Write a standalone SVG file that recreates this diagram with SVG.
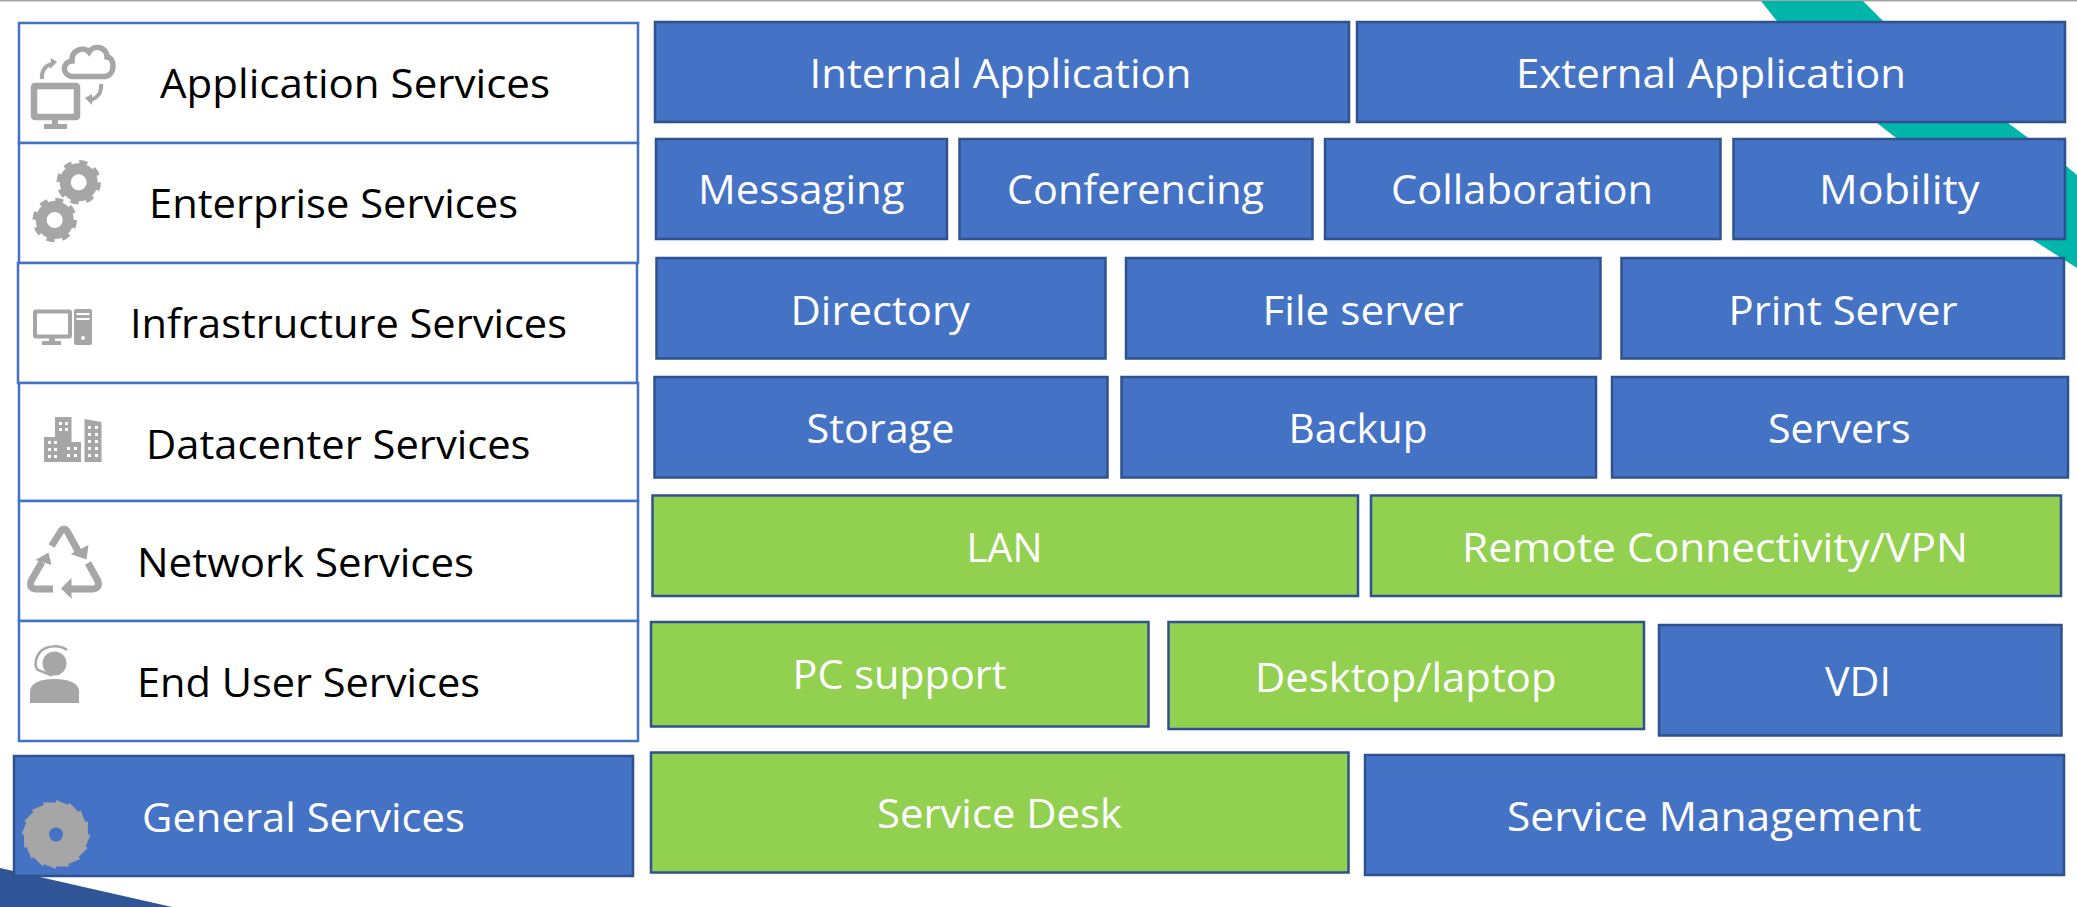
<svg xmlns="http://www.w3.org/2000/svg" width="2077" height="907" viewBox="0 0 2077 907">
<style>
text{font-family:"Open Sans","Noto Sans","Liberation Sans",sans-serif;font-size:40px}
.w{fill:#fff}.k{fill:#000}
.b{fill:#4472C4;stroke:#2F528F;stroke-width:2.5}
.g{fill:#92D050;stroke:#2F528F;stroke-width:2.5}
.s{fill:#fff;stroke:#4472C4;stroke-width:2.5}
.i{fill:#A6A6A6}
.l{fill:none;stroke:#A6A6A6}
.h{fill:#fff}
</style>
<defs>
<g id="gear">
<circle class="l" r="20" stroke-width="4.500" stroke-dasharray="8 7.700"/>
<circle class="l" r="13.500" stroke-width="11"/>
</g>
</defs>
<g id="background">
<rect width="2077" height="907" fill="#fff"/>
<rect width="2077" height="1.5" fill="#A6A6A6"/>
<polygon points="1761,1 1863,1 1882,20 2008,123 2027,137 2065,165 2077,175 2077,268 2033,240 1895,137 1877,123 1776,20" fill="#00B5AA"/>
<polygon points="0,868 172,907 0,907" fill="#2F5597"/>
</g>
<g id="application-services">
<rect class="s" x="19" y="23" width="619" height="120"/>
<path class="l" stroke-width="5.500" d="M74,76.500 C62,77 61,62 72,61 C71,50 84,46 89,52 C94,44 107,47 107,57 C116,58 115,77 104,76.500 Z"/>
<rect class="l" x="34" y="86" width="43" height="31" rx="1" stroke-width="6.500"/>
<rect class="i" x="52" y="119" width="6" height="6"/>
<rect class="i" x="44" y="124" width="23" height="5"/>
<path class="l" stroke-width="4" d="M42,79 C41,70 46,66 51,64"/>
<polygon class="i" points="51,58 57,62 50,69"/>
<path class="l" stroke-width="4" d="M101,84 C102,93 97,98 91,100"/>
<polygon class="i" points="85,98 92,94 92,105"/>
<text class="k" x="160" y="98" textLength="390" lengthAdjust="spacingAndGlyphs">Application Services</text>
</g>
<g id="enterprise-services">
<rect class="s" x="19" y="143" width="619" height="120"/>
<use href="#gear" x="78.7" y="182.3"/>
<use href="#gear" x="54.7" y="220"/>
<text class="k" x="149" y="218" textLength="369" lengthAdjust="spacingAndGlyphs">Enterprise Services</text>
</g>
<g id="infrastructure-services">
<rect class="s" x="18" y="263" width="619" height="120"/>
<rect class="l" x="35" y="311.500" width="35" height="25" rx="1" stroke-width="4"/>
<rect class="i" x="49" y="338" width="6" height="5"/>
<rect class="i" x="42" y="341" width="19" height="4"/>
<rect class="i" x="74" y="309" width="18" height="36" rx="2"/>
<rect class="h" x="76.500" y="313" width="13" height="2"/>
<rect class="h" x="76.500" y="318" width="13" height="2"/>
<circle class="h" cx="83" cy="338" r="2"/>
<text class="k" x="130" y="338" textLength="437" lengthAdjust="spacingAndGlyphs">Infrastructure Services</text>
</g>
<g id="datacenter-services">
<rect class="s" x="19" y="383" width="619" height="118"/>
<polygon class="i" points="55,417 71.500,417 71.500,442 81,442 81,462 44,462 44,437 55,437"/>
<polygon class="i" points="84.500,419 101.500,422 101.500,462 84.500,462"/>
<path class="h" d="M59,422h3v3h-3zM65,422h3v3h-3zM59,428h3v3h-3zM65,428h3v3h-3zM48,441h3v3h-3zM54,441h3v3h-3zM48,448h3v3h-3zM54,448h3v3h-3zM48,455h3v3h-3zM54,455h3v3h-3zM67,447h3v3h-3zM74,447h3v3h-3zM67,454h3v3h-3zM74,454h3v3h-3zM88,426h3v3h-3zM95,426h3v3h-3zM88,433h3v3h-3zM95,433h3v3h-3zM88,440h3v3h-3zM95,440h3v3h-3zM88,447h3v3h-3zM95,447h3v3h-3zM88,454h3v3h-3zM95,454h3v3h-3z"/>
<text class="k" x="146" y="459" textLength="384.500" lengthAdjust="spacingAndGlyphs">Datacenter Services</text>
</g>
<g id="network-services">
<rect class="s" x="19" y="501" width="619" height="120"/>
<path class="l" stroke-width="7" stroke-linejoin="round" d="M51.500,546 L61,531 Q64,527 67,531 L78,551"/>
<polygon class="i" points="88.500,545 86.500,559.500 70.500,554"/>
<path class="l" stroke-width="7" stroke-linejoin="round" d="M42,562 L31,581 Q29,589 36,589 L53,589"/>
<polygon class="i" points="48.500,552.500 35.500,560 51.500,565"/>
<path class="l" stroke-width="7" stroke-linejoin="round" d="M88,563 L98,581 Q100,589 92,589 L70,589"/>
<polygon class="i" points="61,588.500 71.500,578 71.500,599"/>
<text class="k" x="137" y="577" textLength="337" lengthAdjust="spacingAndGlyphs">Network Services</text>
</g>
<g id="end-user-services">
<rect class="s" x="19" y="621" width="619" height="120"/>
<circle class="i" cx="54.500" cy="663.500" r="12"/>
<path class="l" stroke-width="2.500" d="M67,650 C60,645 48,645 41,651 C35,657 34,667 38,670 L52,675.500"/>
<path class="i" d="M30,703 V692 C30,683 40,679 54,679 C69,679 79,683 79,692 V703 Z"/>
<text class="k" x="137" y="697" textLength="343" lengthAdjust="spacingAndGlyphs">End User Services</text>
</g>
<g id="general-services">
<rect class="b" x="14" y="756" width="619" height="120"/>
<path class="i" transform="translate(56 834.500)" d="M0,-34.500L12.200,-29.600L13.200,-31.900L22.600,-22.600L24.400,-24.400L29.600,-12.200L31.900,-13.200L32,0L34.500,0L29.600,12.200L31.900,13.200L22.600,22.600L24.400,24.400L12.200,29.600L13.200,31.900L0,32L0,34.500L-12.200,29.600L-13.200,31.900L-22.600,22.600L-24.400,24.400L-29.600,12.200L-31.900,13.200L-32,0L-34.500,0L-29.600,-12.200L-31.900,-13.200L-22.600,-22.600L-24.400,-24.400L-12.200,-29.600L-13.200,-31.900L0,-32Z"/>
<circle cx="56" cy="834.500" r="7" fill="#4472C4"/>
<text class="w" x="142" y="832" textLength="323" lengthAdjust="spacingAndGlyphs">General Services</text>
</g>
<g id="internal-application"><rect class="b" x="655" y="22" width="694" height="100"/><text class="w" x="809.500" y="88" textLength="382" lengthAdjust="spacingAndGlyphs">Internal Application</text></g>
<g id="external-application"><rect class="b" x="1357" y="22" width="708" height="100"/><text class="w" x="1516" y="88" textLength="390" lengthAdjust="spacingAndGlyphs">External Application</text></g>
<g id="messaging"><rect class="b" x="656" y="139" width="291" height="100"/><text class="w" x="698" y="204" textLength="206.500" lengthAdjust="spacingAndGlyphs">Messaging</text></g>
<g id="conferencing"><rect class="b" x="959.500" y="139" width="353" height="100"/><text class="w" x="1007" y="204" textLength="257" lengthAdjust="spacingAndGlyphs">Conferencing</text></g>
<g id="collaboration"><rect class="b" x="1325" y="139" width="395.500" height="100"/><text class="w" x="1391" y="204" textLength="262" lengthAdjust="spacingAndGlyphs">Collaboration</text></g>
<g id="mobility"><rect class="b" x="1733.500" y="139" width="331.500" height="100"/><text class="w" x="1819" y="204" textLength="160.500" lengthAdjust="spacingAndGlyphs">Mobility</text></g>
<g id="directory"><rect class="b" x="656.500" y="258" width="449" height="100.500"/><text class="w" x="790.500" y="325" textLength="179.500" lengthAdjust="spacingAndGlyphs">Directory</text></g>
<g id="file-server"><rect class="b" x="1126" y="258" width="474.500" height="100.500"/><text class="w" x="1262.500" y="325" textLength="201" lengthAdjust="spacingAndGlyphs">File server</text></g>
<g id="print-server"><rect class="b" x="1621.500" y="258" width="442.500" height="100.500"/><text class="w" x="1728.500" y="325" textLength="229" lengthAdjust="spacingAndGlyphs">Print Server</text></g>
<g id="storage"><rect class="b" x="654.500" y="377" width="453" height="100.500"/><text class="w" x="806.500" y="442.500" textLength="148" lengthAdjust="spacingAndGlyphs">Storage</text></g>
<g id="backup"><rect class="b" x="1121.500" y="377" width="474.500" height="100.500"/><text class="w" x="1288.500" y="442.500" textLength="139" lengthAdjust="spacingAndGlyphs">Backup</text></g>
<g id="servers"><rect class="b" x="1612" y="377" width="456" height="100.500"/><text class="w" x="1768" y="442.500" textLength="142.500" lengthAdjust="spacingAndGlyphs">Servers</text></g>
<g id="lan"><rect class="g" x="652.500" y="495.500" width="705.500" height="100.500"/><text class="w" x="966.500" y="561.500" textLength="76" lengthAdjust="spacingAndGlyphs">LAN</text></g>
<g id="remote-connectivity-vpn"><rect class="g" x="1371" y="495.500" width="690" height="100.500"/><text class="w" x="1462" y="561.500" textLength="506" lengthAdjust="spacingAndGlyphs">Remote Connectivity/VPN</text></g>
<g id="pc-support"><rect class="g" x="651" y="622" width="497.500" height="104.500"/><text class="w" x="792.500" y="689" textLength="214" lengthAdjust="spacingAndGlyphs">PC support</text></g>
<g id="desktop-laptop"><rect class="g" x="1168.500" y="622" width="475.500" height="107"/><text class="w" x="1255" y="692" textLength="301.500" lengthAdjust="spacingAndGlyphs">Desktop/laptop</text></g>
<g id="vdi"><rect class="b" x="1659" y="625" width="402.500" height="110.500"/><text class="w" x="1825" y="696" textLength="66" lengthAdjust="spacingAndGlyphs">VDI</text></g>
<g id="service-desk"><rect class="g" x="651" y="752.500" width="697.500" height="120"/><text class="w" x="877" y="828" textLength="245" lengthAdjust="spacingAndGlyphs">Service Desk</text></g>
<g id="service-management"><rect class="b" x="1365" y="755" width="699" height="120"/><text class="w" x="1507" y="831" textLength="414.500" lengthAdjust="spacingAndGlyphs">Service Management</text></g>
</svg>
